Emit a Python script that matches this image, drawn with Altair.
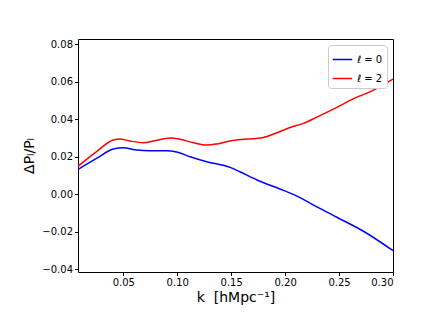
import altair as alt
import pandas as pd

k0 = [0.0082, 0.0252, 0.0407, 0.050, 0.0624, 0.0748, 0.090, 0.0995, 0.112, 0.1274,
      0.149, 0.158, 0.174, 0.199, 0.211, 0.2235, 0.248, 0.273, 0.300]
v0 = [0.0132, 0.0190, 0.0240, 0.0247, 0.0235, 0.0231, 0.0231, 0.0224, 0.0199, 0.0172,
      0.0142, 0.0119, 0.0075, 0.0018, -0.0011, -0.0050, -0.0124, -0.0200, -0.0302]

k2 = [0.0082, 0.0252, 0.0407, 0.047, 0.056, 0.0686, 0.078, 0.0934, 0.1027, 0.115,
      0.1274, 0.1367, 0.149, 0.1647, 0.180, 0.1925, 0.205, 0.217, 0.229, 0.248,
      0.264, 0.279, 0.300]
v2 = [0.0149, 0.0226, 0.0288, 0.0293, 0.0283, 0.0274, 0.0283, 0.0299, 0.0292, 0.0274,
      0.0261, 0.0267, 0.0283, 0.0293, 0.0302, 0.0327, 0.0356, 0.0377, 0.0409, 0.0462,
      0.0510, 0.0546, 0.0613]

labels = ["ℓ = 0", "ℓ = 2"]
colors = ["#0000ff", "#ff0000"]

df = pd.concat([
    pd.DataFrame({"k": k0, "v": v0, "s": labels[0]}),
    pd.DataFrame({"k": k2, "v": v2, "s": labels[1]}),
])

font = "DejaVu Sans"

chart = alt.Chart(df).mark_line(strokeWidth=1.5, interpolate="monotone").encode(
    x=alt.X("k:Q",
            scale=alt.Scale(domain=[0.008, 0.30], nice=False, zero=False),
            axis=alt.Axis(title="k\u00a0\u00a0[hMpc⁻¹]", values=[0.05, 0.10, 0.15, 0.20, 0.25, 0.30],
                          format=".2f", grid=False, tickSize=3.5, tickColor="black",
                          domain=False, labelFontSize=10, labelColor="black",
                          titleFontSize=14, titleFontWeight="normal", titleColor="black",
                          titlePadding=3, labelPadding=2)),
    y=alt.Y("v:Q",
            scale=alt.Scale(domain=[-0.0416, 0.0827], nice=False, zero=False),
            axis=alt.Axis(title="ΔPₗ/Pₗ", values=[-0.04, -0.02, 0.0, 0.02, 0.04, 0.06, 0.08],
                          format=".2f", grid=False, tickSize=3.5, tickColor="black",
                          domain=False, labelFontSize=10, labelColor="black",
                          titleFontSize=14, titleFontWeight="normal", titleColor="black",
                          titlePadding=5, labelPadding=2)),
    color=alt.Color("s:N", scale=alt.Scale(domain=labels, range=colors),
                    legend=alt.Legend(title=None, orient="top-right", symbolType="stroke",
                                      symbolStrokeWidth=1.5, symbolSize=380,
                                      labelFontSize=10, labelColor="black",
                                      strokeColor="#cccccc", cornerRadius=3,
                                      padding=4, offset=6, rowPadding=3,
                                      fillColor="white")),
).properties(
    width=315, height=233,
    autosize=alt.AutoSizeParams(type="none"),
    padding={"left": 70, "top": 31, "right": 20, "bottom": 40},
).configure(
    font=font
).configure_view(
    stroke="black", strokeWidth=1
)

chart.save("out.html", embed_options={"renderer": "svg", "actions": False})
